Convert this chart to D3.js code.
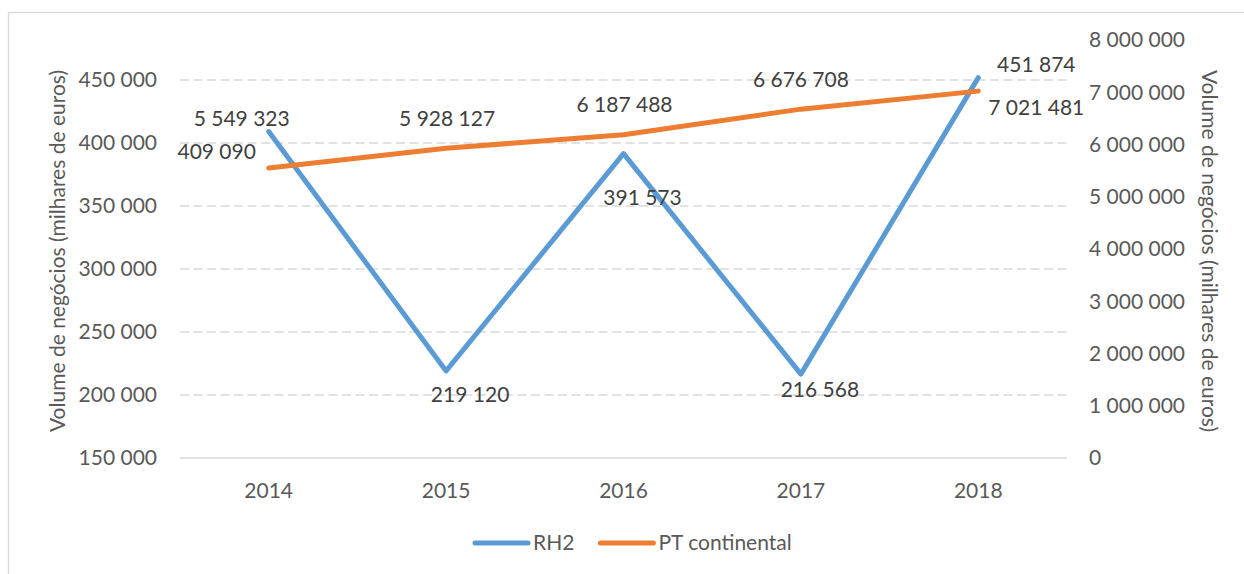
<!DOCTYPE html>
<html>
<head>
<meta charset="utf-8">
<script src="https://cdnjs.cloudflare.com/ajax/libs/d3/7.8.5/d3.min.js"></script>
<style>
  body { margin: 0; background: #fff; }
  svg { display: block; font-family: Lato, "Open Sans", sans-serif; }
</style>
</head>
<body>
<svg id="chart" width="1244" height="574"></svg>
<script>
// Data
const years = ["2014", "2015", "2016", "2017", "2018"];
const rh2 = [409090, 219120, 391573, 216568, 451874];
const ptContinental = [5549323, 5928127, 6187488, 6676708, 7021481];
const leftTicks = [150000, 200000, 250000, 300000, 350000, 400000, 450000];
const rightTicks = [0, 1000000, 2000000, 3000000, 4000000, 5000000, 6000000, 7000000, 8000000];

// Hand placed data labels (offset from the point, px)
const rh2LabelOffset = [[-52, 20], [24, 24], [19, 44], [19, 16], [58, -13]];
const ptLabelOffset = [[-27, -49], [1, -30], [1, -30], [0, -29], [58, 17]];

const blue = "#5B9BD5",
  orange = "#ED7D31",
  gridColor = "#D9D9D9",
  tickText = "#595959",
  labelText = "#404040",
  fontSize = 21;

// plot area
let margin = { top: 40, left: 180, right: 177, bottom: 116 },
  width = 1244,
  height = 574,
  plotRight = width - margin.right,
  plotBottom = height - margin.bottom;

const svg = d3.select("#chart");

// Outer chart border (only top and left visible in the frame)
svg.append("rect")
  .attr("x", 8.5).attr("y", 12.5)
  .attr("width", 1300).attr("height", 700)
  .attr("fill", "none")
  .attr("stroke", gridColor)
  .attr("stroke-width", 1.3);

const x = d3.scaleBand().domain(years).range([margin.left, plotRight]);
const yLeft = d3.scaleLinear().domain([150000, 450000]).range([plotBottom, 80]);
const yRight = d3.scaleLinear().domain([0, 8000000]).range([plotBottom, margin.top]);

const fmt = v => d3.format(",")(v).replace(/,/g, " ");
const cx = d => x(d) + x.bandwidth() / 2;

// Gridlines from the left axis
svg.append("g")
  .selectAll("line")
  .data(leftTicks)
  .join("line")
  .attr("x1", margin.left)
  .attr("x2", plotRight)
  .attr("y1", d => yLeft(d))
  .attr("y2", d => yLeft(d))
  .attr("stroke", gridColor)
  .attr("stroke-width", 1.3)
  .attr("stroke-dasharray", (d, i) => (i === 0 ? null : "9,4.5"));

// Left axis labels
svg.append("g")
  .selectAll("text")
  .data(leftTicks)
  .join("text")
  .attr("x", 157)
  .attr("y", d => yLeft(d))
  .attr("dy", "0.35em")
  .attr("text-anchor", "end")
  .attr("fill", tickText)
  .attr("font-size", fontSize)
  .text(fmt);

// Right axis labels
svg.append("g")
  .selectAll("text")
  .data(rightTicks)
  .join("text")
  .attr("x", 1089)
  .attr("y", d => yRight(d))
  .attr("dy", "0.35em")
  .attr("fill", tickText)
  .attr("font-size", fontSize)
  .text(fmt);

// Category labels
svg.append("g")
  .selectAll("text")
  .data(years)
  .join("text")
  .attr("x", cx)
  .attr("y", 491)
  .attr("dy", "0.35em")
  .attr("text-anchor", "middle")
  .attr("fill", tickText)
  .attr("font-size", fontSize)
  .text(d => d);

// Axis titles
svg.append("text")
  .attr("transform", "translate(58,251) rotate(-90)")
  .attr("dy", "0.35em")
  .attr("text-anchor", "middle")
  .attr("fill", tickText)
  .attr("font-size", fontSize)
  .text("Volume de negócios (milhares de euros)");

svg.append("text")
  .attr("transform", "translate(1209,251) rotate(90)")
  .attr("dy", "0.35em")
  .attr("text-anchor", "middle")
  .attr("fill", tickText)
  .attr("font-size", fontSize)
  .text("Volume de negócios (milhares de euros)");

// Lines
const series = [
  { name: "RH2", values: rh2, y: yLeft, color: blue, offsets: rh2LabelOffset },
  { name: "PT continental", values: ptContinental, y: yRight, color: orange, offsets: ptLabelOffset }
];

series.forEach(s => {
  const line = d3.line()
    .x((d, i) => cx(years[i]))
    .y(d => s.y(d));

  svg.append("path")
    .datum(s.values)
    .attr("d", line)
    .attr("fill", "none")
    .attr("stroke", s.color)
    .attr("stroke-width", 5)
    .attr("stroke-linecap", "round")
    .attr("stroke-linejoin", "round");
});

// Data labels drawn after both lines
series.forEach(s => {
  svg.append("g")
    .selectAll("text")
    .data(s.values)
    .join("text")
    .attr("x", (d, i) => cx(years[i]) + s.offsets[i][0])
    .attr("y", (d, i) => s.y(d) + s.offsets[i][1])
    .attr("dy", "0.35em")
    .attr("text-anchor", "middle")
    .attr("fill", labelText)
    .attr("font-size", fontSize)
    .text(fmt);
});

// Legend
const legend = svg.append("g").attr("transform", "translate(475,543)");
let lx = 0;
series.forEach(s => {
  legend.append("line")
    .attr("x1", lx).attr("x2", lx + 53)
    .attr("y1", 0).attr("y2", 0)
    .attr("stroke", s.color)
    .attr("stroke-width", 5)
    .attr("stroke-linecap", "round");
  const t = legend.append("text")
    .attr("x", lx + 58)
    .attr("dy", "0.35em")
    .attr("fill", tickText)
    .attr("font-size", fontSize)
    .text(s.name);
  lx += 58 + t.node().getComputedTextLength() + 26;
});
</script>
</body>
</html>
